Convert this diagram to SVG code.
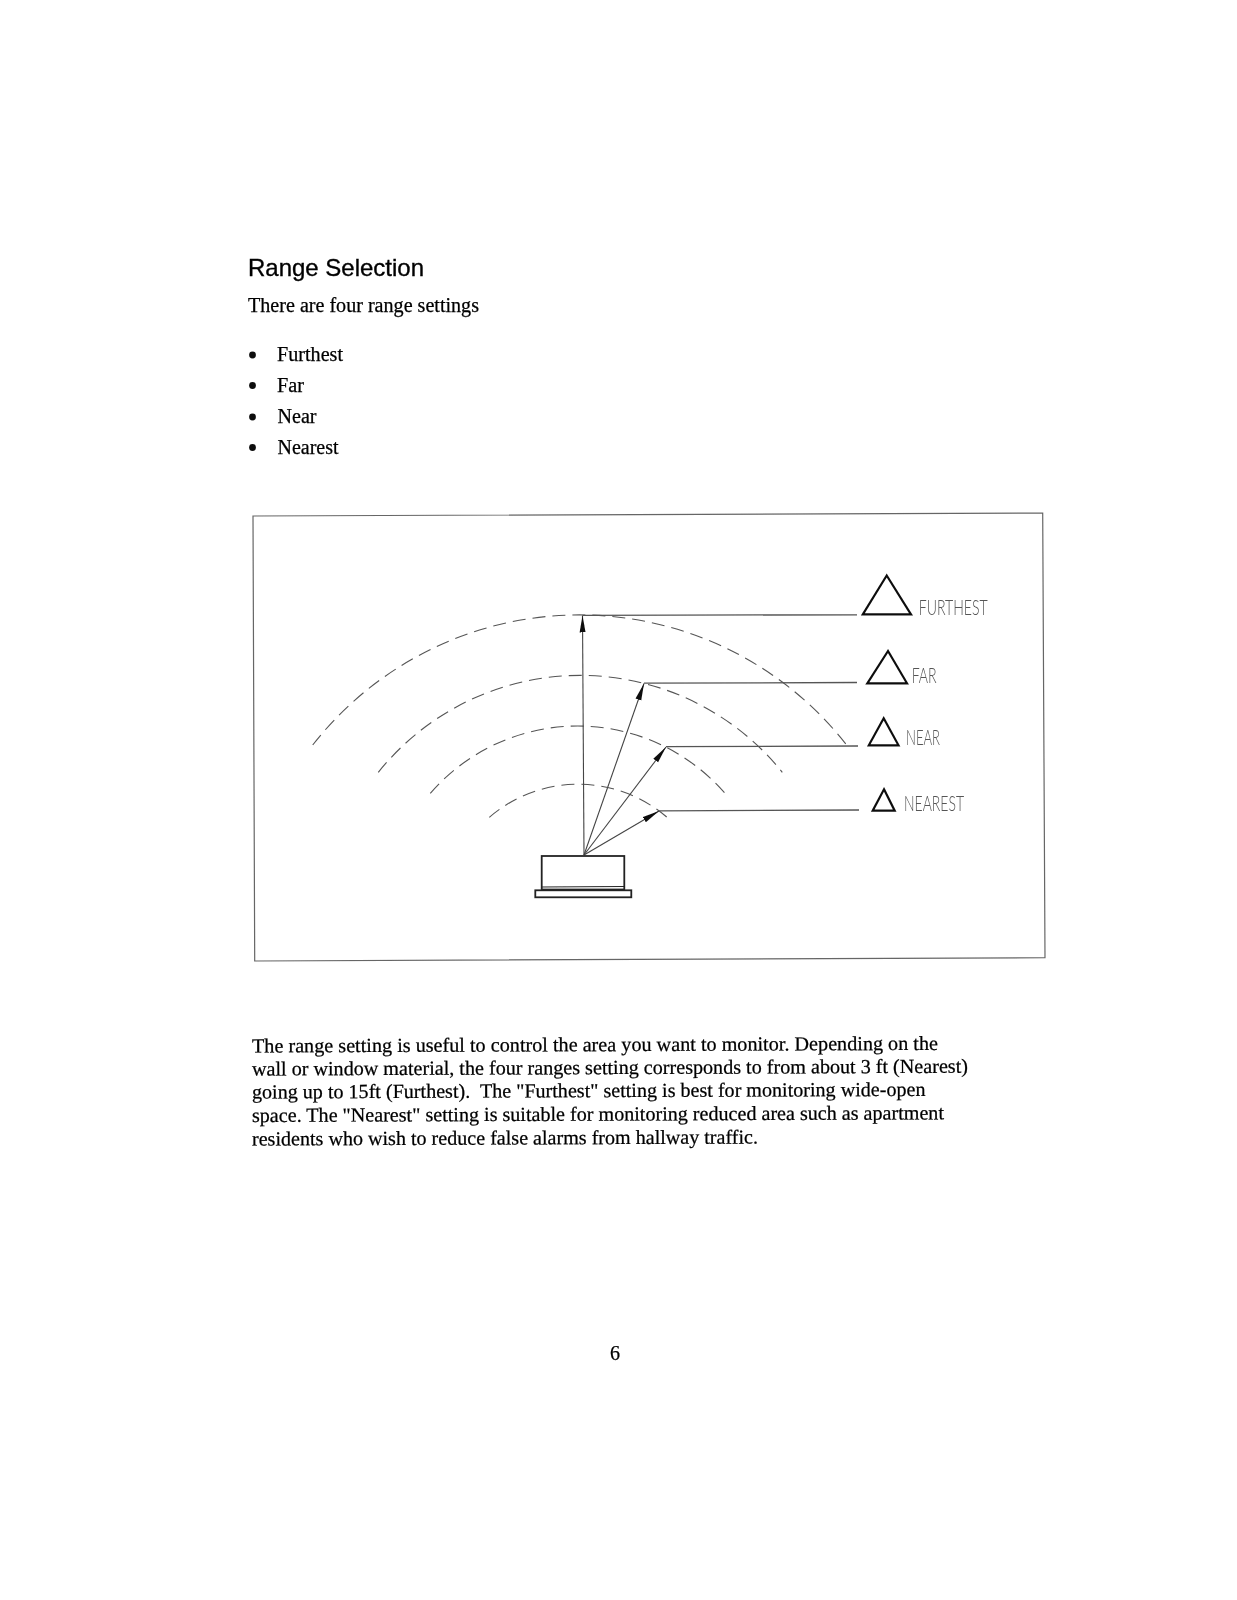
<svg xmlns="http://www.w3.org/2000/svg" width="1237" height="1600" viewBox="0 0 1237 1600">
  <defs>
    <marker id="arrow" markerUnits="userSpaceOnUse" markerWidth="18" markerHeight="8" refX="17" refY="4" orient="auto">
      <path d="M0 1 L17 4 L0 7 Z" fill="#111"/>
    </marker>
    <filter id="scan" x="-5%" y="-5%" width="110%" height="110%"><feGaussianBlur stdDeviation="0.35"/></filter>
  </defs>
  <style>
    .h{font-family:"Liberation Sans",Arial,sans-serif;font-size:24px;fill:#000;stroke:#000;stroke-width:0.35}
    .b{font-family:"Liberation Serif","Times New Roman",serif;font-size:20px;fill:#000;stroke:#000;stroke-width:0.25}
    .l{font-family:"Lato","Liberation Sans",sans-serif;font-weight:300;font-size:22px;fill:#555}
    .frame{fill:none;stroke:#666;stroke-width:1.2}
    .arc{fill:none;stroke:#555;stroke-width:1.1;stroke-dasharray:13 7}
    .ray{fill:none;stroke:#444;stroke-width:1.1;marker-end:url(#arrow)}
    .lead{fill:none;stroke:#555;stroke-width:1.3}
    .tri{fill:none;stroke:#111;stroke-width:2.2;stroke-linejoin:miter}
    .dev{fill:none;stroke:#222;stroke-width:1.8}
  </style>
  <rect width="1237" height="1600" fill="#fff"/>
  <g id="text-top" filter="url(#scan)">
    <text class="h" x="248" y="276" textLength="176" lengthAdjust="spacingAndGlyphs">Range Selection</text>
    <text class="b" x="248" y="312" textLength="231" lengthAdjust="spacingAndGlyphs">There are four range settings</text>
    <circle cx="252.5" cy="355" r="3.4" fill="#111"/>
    <circle cx="252.5" cy="385.5" r="3.4" fill="#111"/>
    <circle cx="252.5" cy="417" r="3.4" fill="#111"/>
    <circle cx="252.5" cy="447.5" r="3.4" fill="#111"/>
    <text class="b" x="277" y="361" textLength="66" lengthAdjust="spacingAndGlyphs">Furthest</text>
    <text class="b" x="277" y="392" textLength="27" lengthAdjust="spacingAndGlyphs">Far</text>
    <text class="b" x="277.5" y="423" textLength="39" lengthAdjust="spacingAndGlyphs">Near</text>
    <text class="b" x="277.5" y="454" textLength="61" lengthAdjust="spacingAndGlyphs">Nearest</text>
  </g>
  <g id="frame" filter="url(#scan)">
    <path class="frame" d="M253 516 L1042.7 513 L1045 957.7 L254.7 961 Z"/>
  </g>
  <g id="connectors" filter="url(#scan)">
    <path class="arc" d="M312.7 745 A339 339 0 0 1 849 748"/>
    <path class="arc" d="M378.3 772.3 A259 259 0 0 1 782.3 772.3"/>
    <path class="arc" d="M430.3 793.3 A195 195 0 0 1 726.7 795.3"/>
    <path class="arc" d="M489.3 817.3 A136 136 0 0 1 669.3 819.3"/>
    <path class="ray" d="M584 855 L582.5 615.5"/>
    <path class="ray" d="M584 855 L644 683.5"/>
    <path class="ray" d="M584 855 L666 747"/>
    <path class="ray" d="M584 855 L659 811"/>
    <path class="lead" d="M582.5 615.3 L857 614.8"/>
    <path class="lead" d="M644 683.2 L857 682.5"/>
    <path class="lead" d="M666 746.6 L858 746"/>
    <path class="lead" d="M659 810.8 L859 810"/>
  </g>
  <g id="device" filter="url(#scan)">
    <rect class="dev" x="541.7" y="856" width="82.6" height="33.5"/>
    <path class="dev" style="stroke-width:1" d="M542 887 L624 886.5"/>
    <rect class="dev" x="535.3" y="890.3" width="96" height="7"/>
  </g>
  <g id="furthest" filter="url(#scan)">
    <path class="tri" d="M886.7 575.5 L911 614.3 L862.8 614.3 Z"/>
    <text class="l" x="918.7" y="615" textLength="69" lengthAdjust="spacingAndGlyphs">FURTHEST</text>
  </g>
  <g id="far" filter="url(#scan)">
    <path class="tri" d="M888 651 L907 683.3 L867.3 683.3 Z"/>
    <text class="l" x="911.7" y="683" textLength="25" lengthAdjust="spacingAndGlyphs">FAR</text>
  </g>
  <g id="near" filter="url(#scan)">
    <path class="tri" d="M883.7 718.3 L898.5 745.3 L868.8 745.3 Z"/>
    <text class="l" x="906" y="744.5" textLength="34" lengthAdjust="spacingAndGlyphs">NEAR</text>
  </g>
  <g id="nearest" filter="url(#scan)">
    <path class="tri" d="M884 789.3 L894.7 810.7 L872.7 810.7 Z"/>
    <text class="l" x="904" y="811" textLength="60" lengthAdjust="spacingAndGlyphs">NEAREST</text>
  </g>
  <g id="text-bottom" filter="url(#scan)">
    <text class="b" x="252" y="1052.5" transform="rotate(-0.22 252 1052.5)" textLength="686" lengthAdjust="spacingAndGlyphs">The range setting is useful to control the area you want to monitor. Depending on the</text>
    <text class="b" x="252" y="1075.5" transform="rotate(-0.22 252 1075.5)" textLength="716" lengthAdjust="spacingAndGlyphs">wall or window material, the four ranges setting corresponds to from about 3 ft (Nearest)</text>
    <text class="b" x="252" y="1098.5" transform="rotate(-0.22 252 1098.5)" textLength="673.5" lengthAdjust="spacingAndGlyphs" xml:space="preserve">going up to 15ft (Furthest).  The "Furthest" setting is best for monitoring wide-open</text>
    <text class="b" x="252" y="1122" transform="rotate(-0.22 252 1122)" textLength="692" lengthAdjust="spacingAndGlyphs">space. The "Nearest" setting is suitable for monitoring reduced area such as apartment</text>
    <text class="b" x="252" y="1145.5" transform="rotate(-0.22 252 1145.5)" textLength="506" lengthAdjust="spacingAndGlyphs">residents who wish to reduce false alarms from hallway traffic.</text>
    <text class="b" x="610" y="1360">6</text>
  </g>
</svg>
